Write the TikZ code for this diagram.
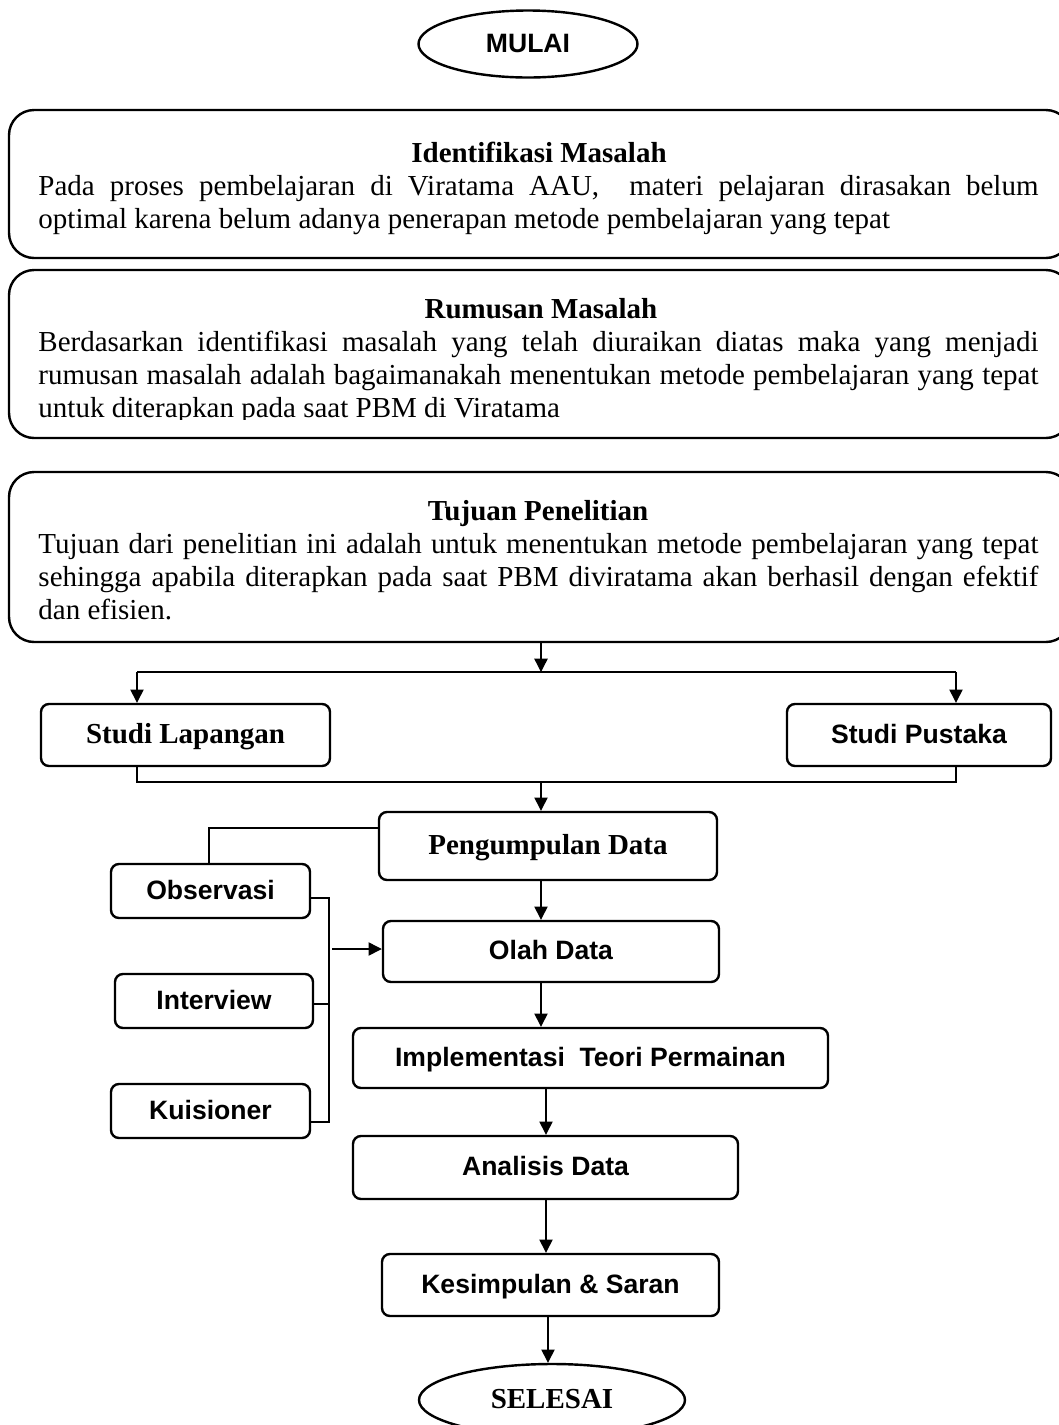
\documentclass[tikz,border=0pt]{standalone}
\usepackage{fontspec}
\setmainfont{Liberation Serif}
\setsansfont{Liberation Sans}
\usetikzlibrary{arrows.meta, positioning, shapes.geometric, calc}
\newcommand{\px}{0.414pt}
\hbadness=10000

\begin{document}
\begin{tikzpicture}[
    x=0.414pt, y=-0.414pt,
    font=\fontsize{12pt}{13.6pt}\selectfont,
    bigbox/.style={rectangle, rounded corners=10.4pt, draw, line width=1pt, minimum width=1062*\px, inner sep=0pt},
    stepbox/.style={rectangle, rounded corners=3.3pt, draw, line width=1pt, inner sep=0pt, text height=0.7em, text depth=0pt},
    termbox/.style={ellipse, draw, line width=1pt, inner sep=0pt, text height=0.7em, text depth=0pt},
    titletext/.style={font=\fontsize{12pt}{13.6pt}\selectfont\bfseries, inner sep=0pt, anchor=base},
    bodytext/.style={text width=414pt, align=justify, inner sep=0pt, anchor=north west},
    serifbold/.style={font=\fontsize{12pt}{13.6pt}\selectfont\bfseries},
    sansbold/.style={font=\fontsize{11pt}{13pt}\selectfont\sffamily\bfseries},
    flowarr/.style={-{Triangle[length=5.5pt, width=5.5pt]}, line width=0.55pt},
    link/.style={line width=0.55pt}
]
    \useasboundingbox (0,0) rectangle (1058,1425);

    % Start
    \node[termbox, sansbold, minimum width=219*\px, minimum height=67*\px] (mulai) at (528,44) {MULAI};

    % Problem boxes
    \node[bigbox, minimum height=148*\px] (identifikasi) at (540,184) {};
    \node[titletext] (identifikasititle) at (539,162) {Identifikasi Masalah};
    \node[bodytext] (identifikasibody) at (38,175) {Pada proses pembelajaran di Viratama AAU,~ materi pelajaran dirasakan belum\linebreak optimal karena belum adanya penerapan metode pembelajaran yang tepat};

    \node[bigbox, minimum height=168*\px] (rumusan) at (540,354) {};
    \node[titletext] (rumusantitle) at (541,318) {Rumusan Masalah};
    \begin{scope}
        \clip (0,0) rectangle (1058,419);
        \node[bodytext] (rumusanbody) at (38,331) {Berdasarkan identifikasi masalah yang telah diuraikan diatas maka yang menjadi\linebreak rumusan masalah adalah bagaimanakah menentukan metode pembelajaran yang tepat\linebreak untuk diterapkan pada saat PBM di Viratama};
    \end{scope}

    \node[bigbox, minimum height=170*\px] (tujuan) at (540,557) {};
    \node[titletext] (tujuantitle) at (538,520) {Tujuan Penelitian};
    \node[bodytext] (tujuanbody) at (38,533) {Tujuan dari penelitian ini adalah untuk menentukan metode pembelajaran yang tepat\linebreak sehingga apabila diterapkan pada saat PBM diviratama akan berhasil dengan efektif\linebreak dan efisien.};

    % Studies
    \node[stepbox, serifbold, minimum width=289*\px, minimum height=62*\px] (lapangan) at (185.5,735) {Studi Lapangan};
    \node[stepbox, sansbold, minimum width=264*\px, minimum height=62*\px] (pustaka) at (919,735) {Studi Pustaka};

    % Main steps
    \node[stepbox, serifbold, minimum width=338*\px, minimum height=68*\px] (kumpul) at (548,846) {Pengumpulan Data};
    \node[stepbox, sansbold, minimum width=336*\px, minimum height=61*\px] (olah) at (551,951.5) {Olah Data};
    \node[stepbox, sansbold, minimum width=475*\px, minimum height=60*\px] (implementasi) at (590.5,1058) {Implementasi~ Teori Permainan};
    \node[stepbox, sansbold, minimum width=385*\px, minimum height=63*\px] (analisis) at (545.5,1167.5) {Analisis Data};
    \node[stepbox, sansbold, minimum width=337*\px, minimum height=62*\px] (kesimpulan) at (550.5,1285) {Kesimpulan \& Saran};
    \node[termbox, serifbold, minimum width=266*\px, minimum height=72*\px] (selesai) at (552,1400) {SELESAI};

    % Data collection methods
    \node[stepbox, sansbold, minimum width=199*\px, minimum height=54*\px] (observasi) at (210.5,891) {Observasi};
    \node[stepbox, sansbold, minimum width=198*\px, minimum height=54*\px] (interview) at (214,1001) {Interview};
    \node[stepbox, sansbold, minimum width=199*\px, minimum height=54*\px] (kuisioner) at (210.5,1111) {Kuisioner};

    % Split and merge
    \coordinate (split) at (541,672);
    \coordinate (joinL) at (137,672);
    \coordinate (joinR) at (956,672);
    \coordinate (merge) at (541,782);
    \draw[flowarr] (tujuan.south -| split) -- (split);
    \draw[link] (joinL) -- (joinR);
    \draw[flowarr] (joinL) -- (joinL |- lapangan.north);
    \draw[flowarr] (joinR) -- (joinR |- pustaka.north);
    \draw[link] (joinL |- lapangan.south) -- (joinL |- merge) -- (joinR |- merge) -- (joinR |- pustaka.south);
    \draw[flowarr] (merge) -- (merge |- kumpul.north);

    % Methods bracket
    \coordinate (obsup) at (209,828);
    \coordinate (b1) at (329,898);
    \coordinate (b2) at (329,1004);
    \coordinate (b3) at (329,1122);
    \coordinate (bout) at (332,949);
    \draw[link] (kumpul.west |- obsup) -- (obsup) -- (obsup |- observasi.north);
    \draw[link] (observasi.east |- b1) -- (b1) -- (b3) -- (kuisioner.east |- b3);
    \draw[link] (interview.east |- b2) -- (b2);
    \draw[flowarr] (bout) -- (bout -| olah.west);

    % Flow
    \coordinate (spine) at (546,0);
    \coordinate (spinelow) at (548,0);
    \draw[flowarr] (kumpul.south -| split) -- (olah.north -| split);
    \draw[flowarr] (olah.south -| split) -- (implementasi.north -| split);
    \draw[flowarr] (implementasi.south -| spine) -- (analisis.north -| spine);
    \draw[flowarr] (analisis.south -| spine) -- (kesimpulan.north -| spine);
    \draw[flowarr] (kesimpulan.south -| spinelow) -- (selesai.north -| spinelow);

\end{tikzpicture}
\end{document}
